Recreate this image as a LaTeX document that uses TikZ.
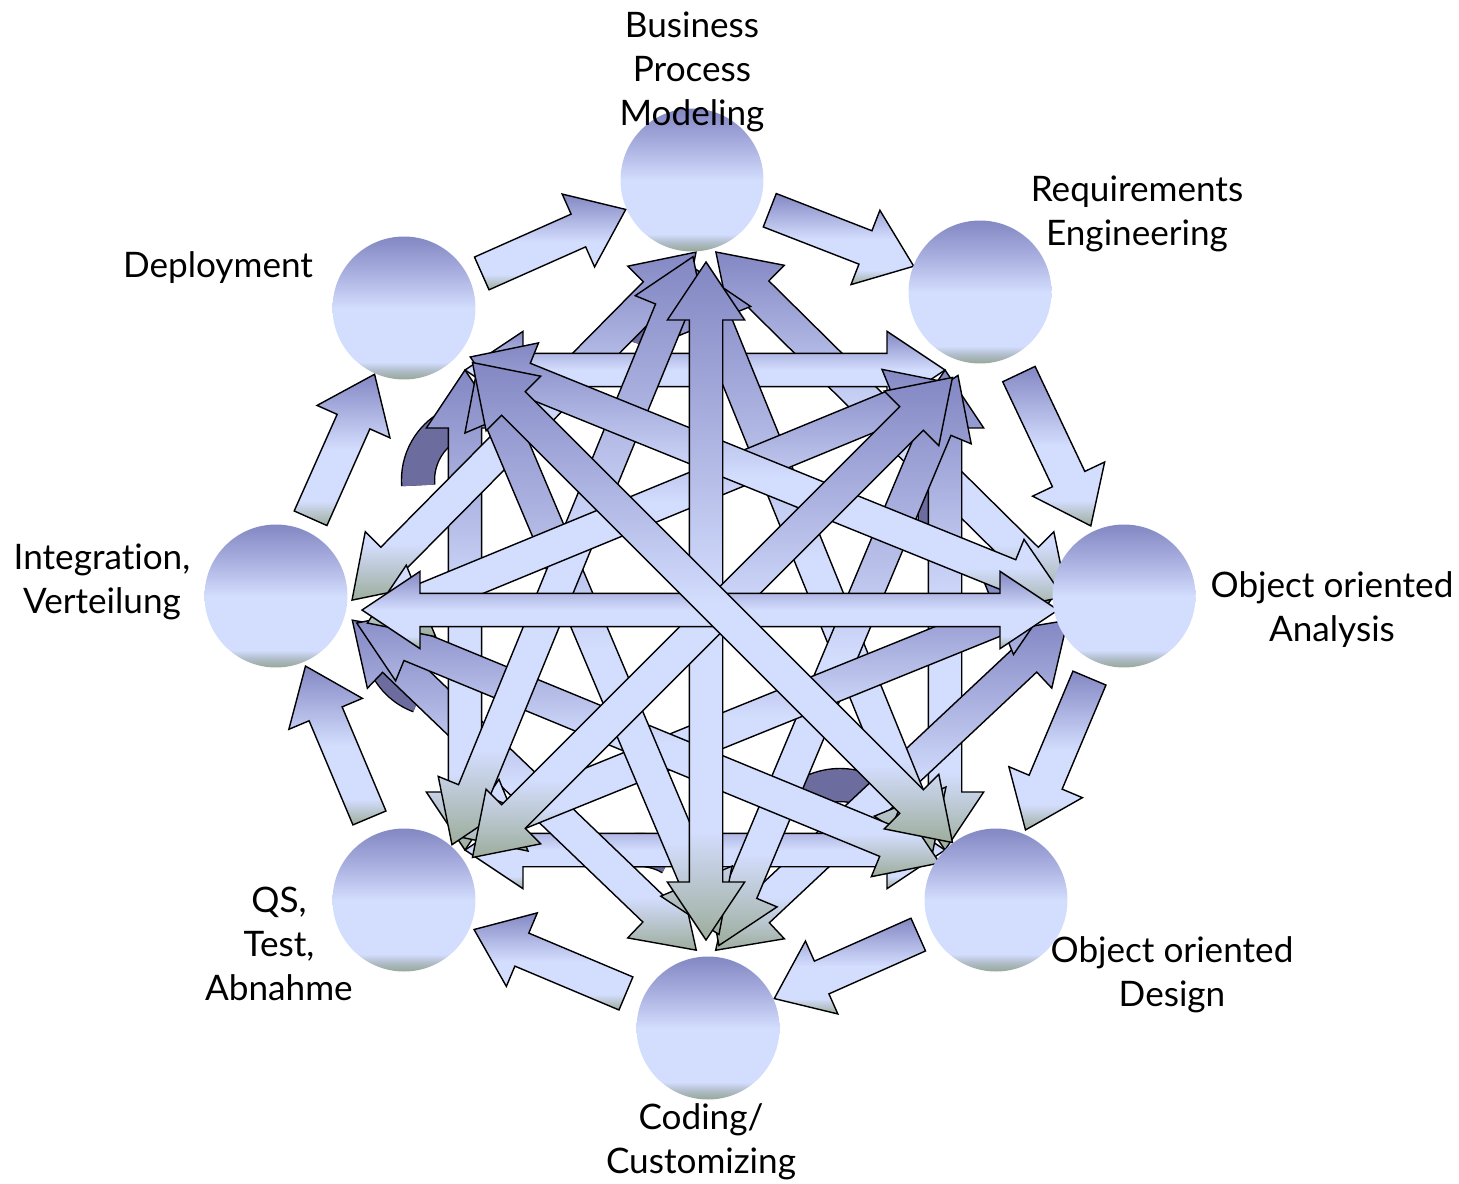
\documentclass[tikz,border=0pt]{standalone}
\usepackage{fontspec}
\setmainfont{Lato}[Ligatures=NoCommon]
\usetikzlibrary{calc}

\definecolor{orbtop}{HTML}{8387C3}
\definecolor{orbmid}{HTML}{AAB0E0}
\definecolor{orblight}{HTML}{D3DDFD}
\definecolor{orbgrey}{HTML}{B4C0D0}
\definecolor{orbgreen}{HTML}{95A797}
\definecolor{arrgreen}{HTML}{9DAD9C}
\definecolor{darkarc}{HTML}{6C6C9E}

\pgfdeclareverticalshading{orb}{100bp}{color(0bp)=(orbgreen); color(25bp)=(orbgreen); color(28.5bp)=(orbgrey); color(31bp)=(orblight); color(50bp)=(orblight); color(62bp)=(orbmid); color(75bp)=(orbtop); color(100bp)=(orbtop)}
\pgfdeclareverticalshading{arrfill}{100bp}{color(0bp)=(arrgreen); color(25bp)=(arrgreen); color(33bp)=(orblight); color(50bp)=(orblight); color(75bp)=(orbtop); color(100bp)=(orbtop)}

\pgfdeclarelayer{back}
\pgfsetlayers{back,main}

\tikzset{
  orbnode/.style={circle, minimum size=2.86cm, inner sep=0pt, shade, shading=orb},
  labeltext/.style={align=center, font=\fontsize{20}{25}\selectfont, inner sep=0pt},
  arrowbody/.style={shade, shading=arrfill, draw=black, line width=0.8pt, line join=miter},
  darkband/.style={line width=0.8pt, double=darkarc, double distance=18pt}
}

% angle, length and start of a connector, in pt
\newcommand\arrowframe[2]{%
  \path let \p1=(#1), \p2=(#2) in \pgfextra{%
    \pgfmathsetmacro\tmpang{atan2(\y2-\y1,\x2-\x1)}%
    \pgfmathsetmacro\tmplen{veclen(\x2-\x1,\y2-\y1)}%
    \xdef\arrang{\tmpang}\xdef\arrlen{\tmplen}%
    \xdef\arrx{\x1}\xdef\arry{\y1}};}

% one-headed block arrow (outer ring)
\newcommand\outerarrow[2]{%
  \arrowframe{#1}{#2}%
  \begin{scope}[shift={(\arrx,\arry)}, rotate=\arrang, x=1pt, y=1pt]
    \path[arrowbody] (0,10.2) -- (\arrlen-29.5,10.2) -- (\arrlen-29.5,22.7) -- (\arrlen,0)
      -- (\arrlen-29.5,-22.7) -- (\arrlen-29.5,-10.2) -- (0,-10.2) -- cycle;
  \end{scope}}

% two-headed block arrow (inner net), #3 = sideways offset in pt
\newcommand\innerarrow[3]{%
  \arrowframe{#1}{#2}%
  \begin{scope}[shift={(\arrx,\arry)}, rotate=\arrang, yshift=#3pt, x=1pt, y=1pt]
    \path[arrowbody] (0,0) -- (33,22) -- (33,9.5) -- (\arrlen-33,9.5) -- (\arrlen-33,22)
      -- (\arrlen,0) -- (\arrlen-33,-22) -- (\arrlen-33,-9.5) -- (33,-9.5) -- (33,-22) -- cycle;
  \end{scope}}

\begin{document}
\begin{tikzpicture}[x=0.02cm, y=-0.02cm]
  \useasboundingbox (0,0) rectangle (1459,1183);

  % stations
  \node[orbnode] (bpm) at (692,180) {};
  \node[orbnode] (req) at (980,292) {};
  \node[orbnode] (ooa) at (1124,596) {};
  \node[orbnode] (ood) at (996,900) {};
  \node[orbnode] (code) at (708,1028) {};
  \node[orbnode] (qs) at (404,900) {};
  \node[orbnode] (integ) at (276,596) {};
  \node[orbnode] (deploy) at (404,308) {};

  % labels
  \node[labeltext] (bpm-lbl) at (692,72) {Business\\Process\\Modeling};
  \node[labeltext] (req-lbl) at (1137,214) {Requirements\\Engineering};
  \node[labeltext] (ooa-lbl) at (1332,610) {Object oriented\\Analysis};
  \node[labeltext] (ood-lbl) at (1172,975) {Object oriented\\Design};
  \node[labeltext] (code-lbl) at (701,1142) {Coding/\\Customizing};
  \node[labeltext] (qs-lbl) at (279,944) {QS,\\Test,\\Abnahme};
  \node[labeltext] (integ-lbl) at (102,582) {Integration,\\Verteilung};
  \node[labeltext] (deploy-lbl) at (218,268) {Deployment};

  % inner ends of the net
  \coordinate (bpm-in) at ($(bpm)+(14,82)$);
  \coordinate (req-in) at ($(req)+(-35,78)$);
  \coordinate (ooa-in) at ($(ooa)+(-66,14)$);
  \coordinate (ood-in) at ($(ood)+(-51,-50)$);
  \coordinate (code-in) at ($(code)+(-2,-88)$);
  \coordinate (qs-in) at ($(qs)+(61,-50)$);
  \coordinate (integ-in) at ($(integ)+(86,14)$);
  \coordinate (deploy-in) at ($(deploy)+(61,62)$);

  \begin{pgfonlayer}{back}
    % dark bends behind the net
    \draw[darkband] (480,480) ++(-90:62) arc (-90:-185:62);
    \draw[darkband] (700,360) ++(-100:70) arc (-100:-165:70);
    \draw[darkband] (870,520) ++(30:65) arc (30:-30:65);
    \draw[darkband] (840,850) ++(-50:65) arc (-50:-130:65);
    \draw[darkband] (640,910) ++(-60:60) arc (-60:-140:60);
    \draw[darkband] (440,640) ++(-200:60) arc (-200:-250:60);

    % every station with every other one
    \foreach \a/\b/\o in {bpm/ooa/8, req/ood/0, ooa/code/8, ood/qs/0, code/integ/8,
        qs/deploy/0, integ/bpm/8, deploy/req/0, bpm/ood/-8, req/code/8, ooa/qs/-8,
        ood/integ/8, code/deploy/-8, qs/bpm/8, integ/req/-8, deploy/ooa/8,
        bpm/code/0, req/qs/6, ooa/integ/0, ood/deploy/-6}
      {\innerarrow{\a-in}{\b-in}{\o}}

    % process cycle
    \foreach \a/\b in {bpm/req, req/ooa, ooa/ood, ood/code, code/qs, qs/integ,
        integ/deploy, deploy/bpm}
      {\outerarrow{$(\a)!0.27!(\b)$}{$(\a)!0.77!(\b)$}}
  \end{pgfonlayer}
\end{tikzpicture}
\end{document}
